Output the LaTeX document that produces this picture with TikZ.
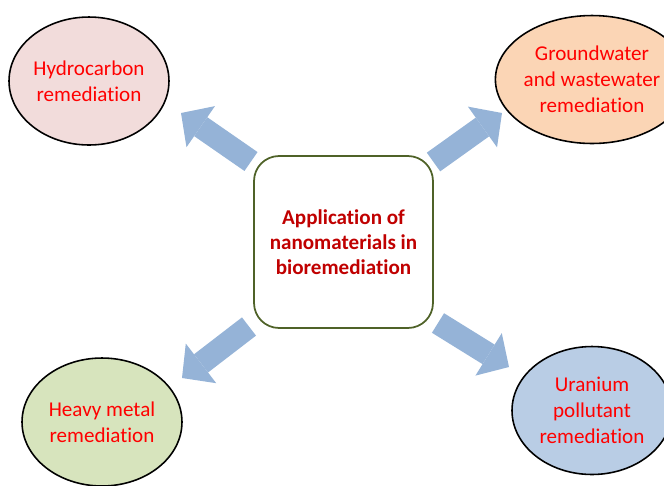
\documentclass[tikz,border=0pt]{standalone}
\usepackage{fontspec}
\setmainfont[Ligatures=NoCommon]{Carlito}
\usetikzlibrary{positioning, arrows.meta, shapes.geometric}

\definecolor{hydrofill}{HTML}{F2DCDB}
\definecolor{waterfill}{HTML}{FBD5B5}
\definecolor{metalfill}{HTML}{D7E4BD}
\definecolor{uranfill}{HTML}{B9CDE5}
\definecolor{arrowblue}{HTML}{95B3D7}
\definecolor{coreline}{HTML}{4F6228}
\definecolor{corered}{HTML}{C00000}

\tikzset{%
    topic/.style={
      ellipse,
      draw,
      line width=0.9pt,
      minimum width=3.2cm,
      minimum height=2.56cm,
      inner sep=0pt,
      align=center,
      text=red,
      font=\fontsize{12}{14.8}\selectfont
    },
    core/.style={
      rectangle,
      draw=coreline,
      line width=1pt,
      rounded corners=0.5cm,
      minimum width=3.58cm,
      minimum height=3.44cm,
      align=center,
      text=corered,
      font=\bfseries\fontsize{12}{14.2}\selectfont
    },
    fat arrow/.style={
      draw=arrowblue,
      line width=0.46cm,
      -{Triangle[length=0.48cm, width=1.0cm, line width=0pt]}
    }
  }

\begin{document}
\begin{tikzpicture}[x=0.02cm, y=-0.02cm]
      \useasboundingbox (0,0) rectangle (664,485);

      \node [core] (app) at (343.5,242) {Application of\\nanomaterials in\\bioremediation};

      \node [topic, fill=hydrofill] (hydro) at (89,81) {Hydrocarbon\\remediation};
      \node [topic, fill=waterfill] (water) at (592,79.5) {Groundwater\\and wastewater\\remediation};
      \node [topic, fill=metalfill] (metal) at (102,422) {Heavy metal\\remediation};
      \node [topic, fill=uranfill] (uran) at (592,410.5) {Uranium\\pollutant\\remediation};

      % ends of the block arrows
      \coordinate (hydro tail) at (251,161.5);
      \coordinate (hydro tip) at (181,113);
      \coordinate (water tail) at (433.5,162);
      \coordinate (water tip) at (502,113);
      \coordinate (metal tail) at (249,326.5);
      \coordinate (metal tip) at (182,378);
      \coordinate (uran tail) at (438,323);
      \coordinate (uran tip) at (509,367);

      \draw [fat arrow] (hydro tail) -- (hydro tip);
      \draw [fat arrow] (water tail) -- (water tip);
      \draw [fat arrow] (metal tail) -- (metal tip);
      \draw [fat arrow] (uran tail) -- (uran tip);
\end{tikzpicture}
\end{document}
